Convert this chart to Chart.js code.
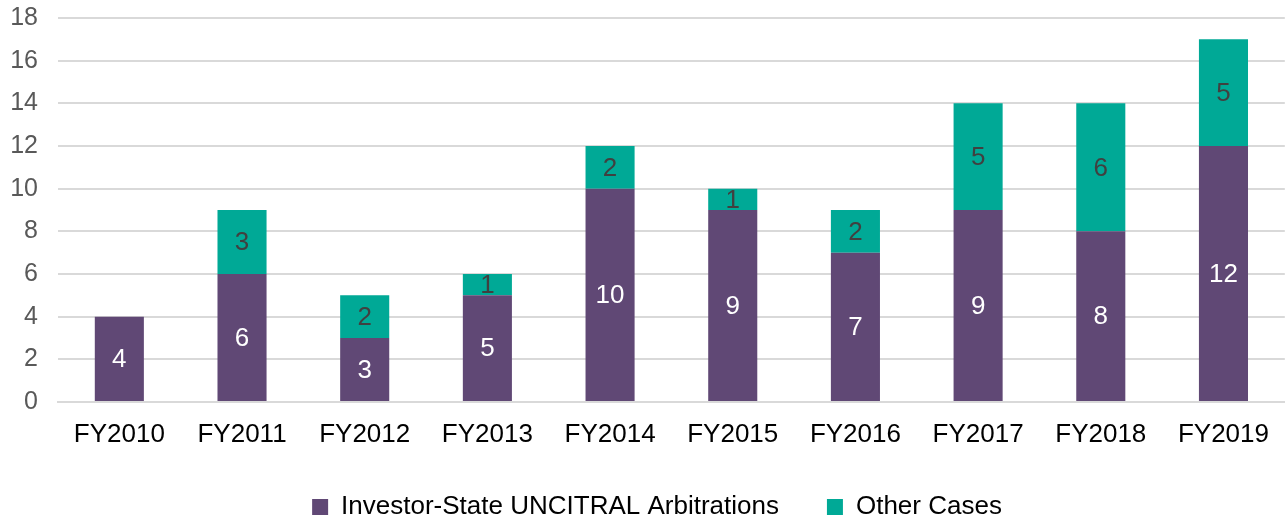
<!DOCTYPE html>
<html>
<head>
<meta charset="utf-8">
<script src="https://cdn.jsdelivr.net/npm/chart.js@4/dist/chart.umd.min.js"></script>
<style>
  html, body { margin: 0; padding: 0; background: #ffffff; }
  #wrap { width: 1286px; height: 520px; }
</style>
</head>
<body>
<div id="wrap"><canvas id="c"></canvas></div>
<script>
var years = ['FY2010', 'FY2011', 'FY2012', 'FY2013', 'FY2014', 'FY2015', 'FY2016', 'FY2017', 'FY2018', 'FY2019'];
var investorState = [4, 6, 3, 5, 10, 9, 7, 9, 8, 12];
var otherCases = [0, 3, 2, 1, 2, 1, 2, 5, 6, 5];

var PURPLE = '#604875';
var TEAL = '#00a996';
var FONT = '"Liberation Sans", Arial, sans-serif';

// draws the value inside each bar segment
var barLabels = {
    id: 'barLabels',
    afterDatasetsDraw: function (chart) {
        var ctx = chart.ctx;
        ctx.save();
        ctx.font = '26px ' + FONT;
        ctx.textAlign = 'center';
        ctx.textBaseline = 'middle';
        chart.data.datasets.forEach(function (ds, i) {
            var meta = chart.getDatasetMeta(i);
            ctx.fillStyle = i === 0 ? '#ffffff' : '#404040';
            meta.data.forEach(function (bar, j) {
                var v = ds.data[j];
                if (!v) return;
                ctx.fillText(String(v), bar.x, (bar.y + bar.base) / 2 + 1);
            });
        });
        ctx.restore();
    }
};

// legend sits a bit lower and a bit right of where chart.js puts it
var legendShift = {
    id: 'legendShift',
    beforeLayout: function (chart) {
        var lg = chart.legend;
        if (!lg || lg._shifted) return;
        var fit = lg.fit;
        lg.fit = function () {
            fit.call(this);
            this.height -= 10;
        };
        lg._shifted = true;
    },
    afterLayout: function (chart) {
        if (chart.legend) chart.legend.left += 28;
    }
};

new Chart(document.getElementById('c'), {
    type: 'bar',
    data: {
        labels: years,
        datasets: [{
            label: 'Investor-State UNCITRAL Arbitrations',
            data: investorState,
            backgroundColor: PURPLE,
            barPercentage: 0.4,
            categoryPercentage: 1.0,
        }, {
            label: 'Other Cases',
            data: otherCases,
            backgroundColor: TEAL,
            barPercentage: 0.4,
            categoryPercentage: 1.0,
        }],
    },
    options: {
        responsive: true,
        maintainAspectRatio: false,
        animation: false,
        layout: { padding: { top: 18, right: 0, left: 0, bottom: 0 } },
        scales: {
            x: {
                stacked: true,
                grid: { display: false, drawTicks: false },
                border: { display: true, color: '#d9d9d9', width: 2 },
                ticks: { color: '#000000', padding: 17, font: { size: 26, family: FONT } },
                afterFit: function (scale) { scale.height = 44; },
            },
            y: {
                stacked: true,
                min: 0,
                max: 18,
                grid: { color: '#d9d9d9', lineWidth: 2, drawTicks: false },
                border: { display: false },
                ticks: { stepSize: 2, color: '#595959', padding: 20, font: { size: 25, family: FONT } },
                afterFit: function (scale) {
                    scale.width = 58;
                    scale.paddingTop = 0;
                    scale.paddingBottom = 0;
                },
            },
        },
        plugins: {
            legend: {
                position: 'bottom',
                labels: {
                    boxWidth: 16,
                    boxHeight: 16,
                    padding: 48,
                    color: '#000000',
                    font: { size: 26, family: FONT },
                },
            },
            tooltip: { enabled: false },
        },
    },
    plugins: [barLabels, legendShift],
});
</script>
</body>
</html>
